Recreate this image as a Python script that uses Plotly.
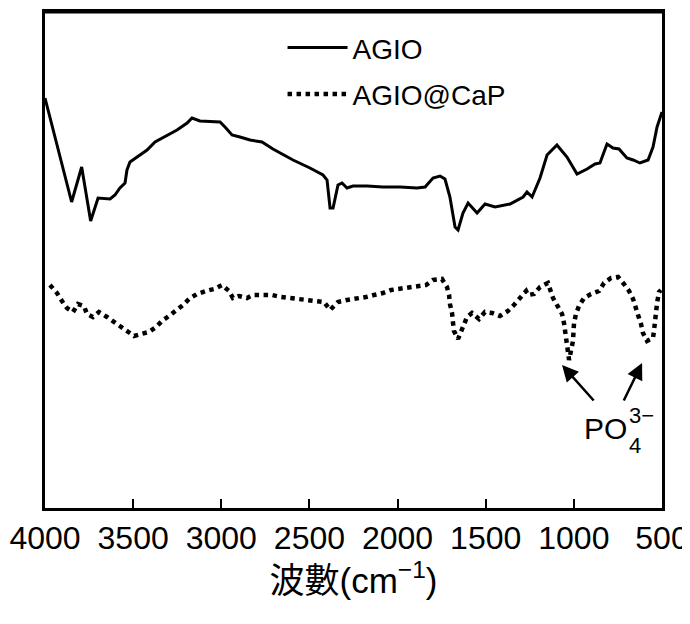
import plotly.graph_objects as go

# AGIO (solid) : wavenumber (cm^-1) and relative transmittance (a.u.)
agio_wn = [4000, 3849, 3792, 3741, 3699, 3631, 3603, 3575, 3546, 3535, 3518, 3478, 3421, 3376,
           3308, 3251, 3194, 3166, 3121, 3007, 2979, 2939, 2894, 2837, 2769, 2707, 2593, 2497,
           2423, 2400, 2383, 2366, 2338, 2315, 2287, 2253, 2173, 2083, 1986, 1890, 1844, 1799,
           1759, 1731, 1703, 1674, 1657, 1629, 1600, 1549, 1504, 1447, 1362, 1288, 1266, 1237,
           1192, 1152, 1096, 1039, 982, 925, 880, 852, 812, 778, 744, 699, 664, 625, 579, 551,
           528, 500]
agio_t = [410, 306, 341, 287, 310, 309, 313, 320, 325, 338, 346, 351, 358, 366,
          373, 378, 385, 390, 387, 386, 381, 373, 371, 368, 366, 359, 348, 340,
          333, 328, 300, 300, 323, 325, 320, 322, 322, 321, 321, 320, 321, 330,
          332, 329, 311, 281, 278, 295, 305, 295, 304, 301, 304, 311, 316, 311,
          330, 353, 363, 351, 334, 339, 344, 345, 364, 360, 359, 350, 348, 345, 348, 361,
          381, 396]

# AGIO@CaP (dotted)
cap_wn = [3972, 3932, 3904, 3875, 3841, 3813, 3779, 3762, 3728, 3694, 3648, 3609, 3569, 3535,
          3512, 3495, 3455, 3410, 3370, 3336, 3297, 3257, 3217, 3183, 3138, 3087, 3041, 2996,
          2956, 2934, 2899, 2854, 2820, 2763, 2712, 2661, 2616, 2565, 2514, 2468, 2417, 2383,
          2366, 2338, 2287, 2230, 2179, 2134, 2083, 2037, 1986, 1941, 1890, 1839, 1799, 1748,
          1720, 1708, 1703, 1691, 1686, 1680, 1657, 1629, 1606, 1578, 1538, 1504, 1464, 1419,
          1374, 1340, 1300, 1271, 1260, 1226, 1192, 1147, 1118, 1090, 1067, 1056, 1050, 1039,
          1033, 1027, 1005, 999, 988, 971, 942, 903, 857, 829, 789, 749, 716, 687, 664, 647,
          636, 619, 608, 585, 551, 545, 540, 528, 517, 506]
cap_t = [223, 215, 207, 200, 196, 204, 202, 194, 191, 196, 191, 186, 181, 177,
         174, 172, 174, 176, 181, 187, 192, 197, 203, 209, 214, 217, 219, 223,
         217, 210, 212, 210, 213, 213, 213, 211, 210, 209, 208, 207, 206, 198,
         201, 206, 208, 209, 211, 213, 215, 218, 219, 220, 221, 223, 228, 229,
         221, 213, 204, 195, 186, 177, 169, 181, 191, 195, 189, 196, 195, 192,
         197, 203, 211, 217, 213, 214, 221, 225, 210, 202, 194, 185, 176, 167,
         159, 148, 167, 185, 194, 202, 210, 214, 217, 225, 230, 231, 224, 217, 209, 201,
         193, 184, 175, 167, 170, 178, 188, 205, 216, 218]

tick_vals = [4000, 3500, 3000, 2500, 2000, 1500, 1000, 500]
tick_text = ["4000", "3500", "3000", "2500", "2000", "1500", "1000", "500"]

series_names = ["AGIO", "AGIO@CaP"]
peak_label = "PO"
# arrows: (head wavenumber, head value, tail wavenumber, tail value)
arrows = [(1067, 143, 880, 106), (613, 145, 721, 106)]

FONT = "Liberation Sans, Arial, Noto Sans CJK TC, sans-serif"

fig = go.Figure()
fig.add_trace(go.Scatter(x=agio_wn, y=agio_t, mode="lines", name=series_names[0],
                         legendgroup="a", line=dict(color="black", width=3)))
fig.add_trace(go.Scatter(x=cap_wn, y=cap_t, mode="lines", name=series_names[1],
                         legendgroup="b", line=dict(color="black", width=4.5, dash="4.5px,4.5px")))

for hx, hy, tx, ty in arrows:
    fig.add_annotation(x=hx, y=hy, ax=tx, ay=ty, xref="x", yref="y", axref="x", ayref="y",
                       text="", showarrow=True, arrowhead=2, arrowsize=1.3, arrowwidth=2.5,
                       arrowcolor="black")

fig.add_annotation(x=954, y=61, xref="x", yref="y", text=peak_label, showarrow=False,
                   xanchor="left", yanchor="bottom", font=dict(family=FONT, size=30, color="black"))
fig.add_annotation(x=699, y=93, xref="x", yref="y", text="3−", showarrow=False,
                   xanchor="left", yanchor="middle", font=dict(family=FONT, size=22, color="black"))
fig.add_annotation(x=699, y=63, xref="x", yref="y", text="4", showarrow=False,
                   xanchor="left", yanchor="middle", font=dict(family=FONT, size=22, color="black"))

# top border of the frame, drawn explicitly on the plot area's upper edge
fig.add_shape(type="line", xref="paper", yref="paper", x0=0, x1=1, y0=1, y1=1,
              line=dict(color="black", width=3), layer="above")

# the page body adds an 8px margin, so the figure is kept inside the window
fig.update_layout(
    width=682, height=608,
    margin=dict(l=37, r=28, t=4, b=108, autoexpand=False),
    paper_bgcolor="white", plot_bgcolor="white",
    font=dict(family=FONT, color="black"),
    showlegend=True,
    legend=dict(x=0.385, y=0.978, xanchor="left", yanchor="top", bgcolor="rgba(0,0,0,0)",
                font=dict(family=FONT, size=28, color="black"), itemwidth=60,
                traceorder="grouped", tracegroupgap=7),
)
fig.update_xaxes(range=[4000, 500], tickvals=tick_vals, ticktext=tick_text, tickangle=0,
                 ticks="inside", ticklen=9, tickwidth=2, tickcolor="black",
                 showline=True, linecolor="black", linewidth=3, mirror=True,
                 showgrid=False, zeroline=False, automargin=False,
                 tickfont=dict(family=FONT, size=32, color="black"),
                 title=dict(text="波數(cm<sup>−1</sup>)", standoff=12,
                            font=dict(family=FONT, size=35, color="black")))
fig.update_yaxes(range=[0, 496], showticklabels=False, ticks="", showgrid=False,
                 zeroline=False, showline=True, linecolor="black", linewidth=3, mirror=True,
                 automargin=False)

fig.write_html("out.html")
